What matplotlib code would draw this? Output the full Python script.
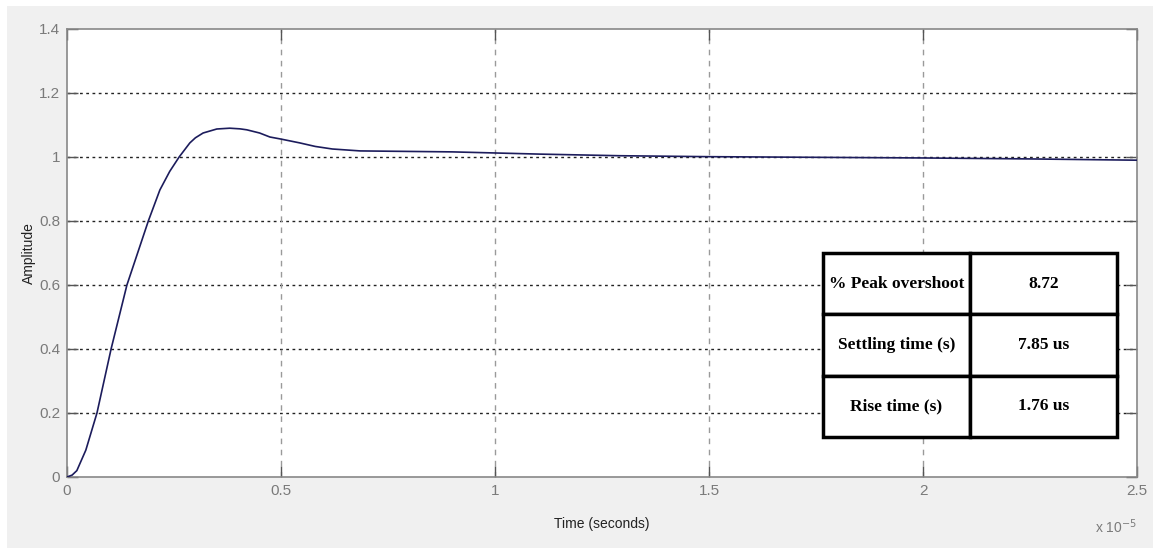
import matplotlib
matplotlib.use("Agg")
import matplotlib.pyplot as plt
import numpy as np
from matplotlib.patches import Rectangle

# Step response (time in units of 1e-5 s)
t = [0.0, 0.012, 0.023, 0.044, 0.070, 0.103, 0.140, 0.190, 0.217, 0.240, 0.262, 0.287,
     0.30, 0.318, 0.35, 0.38, 0.404, 0.42, 0.45, 0.474, 0.50, 0.544, 0.58, 0.62, 0.685,
     0.90, 1.105, 1.29, 1.50, 1.75, 2.0, 2.25, 2.5]
amp = [0.0, 0.006, 0.02, 0.084, 0.20, 0.40, 0.60, 0.80, 0.897, 0.955, 1.0, 1.044,
       1.060, 1.075, 1.0875, 1.090, 1.088, 1.085, 1.075, 1.0625, 1.056, 1.044, 1.033, 1.025, 1.019,
       1.016, 1.009, 1.004, 1.001, 0.999, 0.997, 0.994, 0.99]

xticks = [0, 0.5, 1, 1.5, 2, 2.5]
xticklabels = ["0", "0.5", "1", "1.5", "2", "2.5"]
yticks = [0, 0.2, 0.4, 0.6, 0.8, 1.0, 1.2, 1.4]
yticklabels = ["0", "0.2", "0.4", "0.6", "0.8", "1", "1.2", "1.4"]

table_rows = ["% Peak overshoot", "Settling time (s)", "Rise time (s)"]
table_vals = ["8.72", "7.85 us", "1.76 us"]

fig = plt.figure(figsize=(11.53, 5.5), dpi=100)
fig.patch.set_facecolor("white")
fig.patches.append(Rectangle((7 / 1153, 2 / 550), 1 - 7 / 1153, 1 - 8 / 550,
                             transform=fig.transFigure, facecolor="#f0f0f0",
                             edgecolor="none", zorder=-10))

ax = fig.add_axes([67 / 1153, 1 - 477 / 550, 1070 / 1153, 448 / 550])
ax.set_facecolor("white")

tickfont = ["Liberation Sans", "DejaVu Sans"]
gray = "#7a7a7a"

# grid lines
for y in yticks[1:-1]:
    ax.axhline(y, color="#222222", lw=1.0, ls=(0, (2, 2.5)), zorder=1)
for x in xticks[1:-1]:
    ax.axvline(x, color="#9a9a9a", lw=1.0, ls=(0, (4, 4)), zorder=1)

ax.plot(t, amp, color="#1c1c5c", lw=1.2, zorder=3)

ax.set_xlim(0, 2.5)
ax.set_ylim(0, 1.4)
ax.set_xticks(xticks)
ax.set_xticklabels(xticklabels, family=tickfont, fontsize=11, color=gray)
ax.set_yticks(yticks)
ax.set_yticklabels(yticklabels, family=tickfont, fontsize=11, color=gray)
ax.tick_params(direction="in", length=8, width=1, color="#555555",
               top=True, right=True, pad=5)
for s in ax.spines.values():
    s.set_color("#888888")
    s.set_linewidth(1.2)

ax.set_ylabel("Amplitude", family=tickfont, fontsize=10, color="#222222")
ax.yaxis.set_label_coords((36 - 67) / 1070, 0.5)
ax.set_xlabel("Time (seconds)", family=tickfont, fontsize=10, color="#222222", labelpad=14)
ax.text(1.0, -0.09, r"x 10$^{-5}$", transform=ax.transAxes, ha="right", va="top",
        family=tickfont, fontsize=10, color=gray)

# table
cell_text = [[r, v] for r, v in zip(table_rows, table_vals)]
tab = ax.table(cellText=cell_text, cellLoc="center",
               bbox=[(823 - 67) / 1070, (477 - 437) / 448, (1117 - 823) / 1070, (437 - 253) / 448],
               zorder=5)
tab.auto_set_font_size(False)
for (r, c), cell in tab.get_celld().items():
    cell.set_linewidth(2.5)
    cell.set_edgecolor("black")
    cell.set_facecolor("white")
    cell.get_text().set_fontfamily(["Liberation Serif", "DejaVu Serif"])
    cell.get_text().set_fontsize(12.5)
    cell.get_text().set_fontweight("bold")
    cell.set_width(0.5)

fig.savefig("out.png", dpi=100, facecolor=fig.get_facecolor())
